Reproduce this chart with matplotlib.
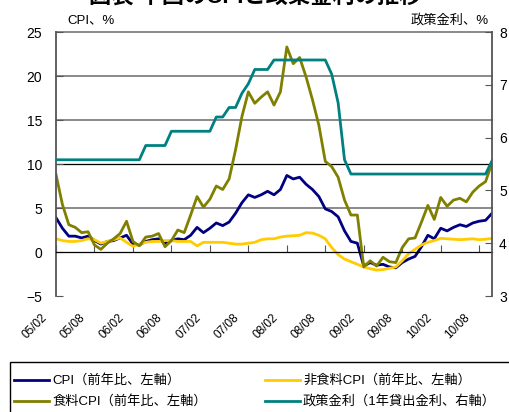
import numpy as np
import matplotlib
matplotlib.use("Agg")
import matplotlib.pyplot as plt
from matplotlib.patches import Rectangle
from matplotlib.lines import Line2D
from matplotlib.transforms import blended_transform_factory, ScaledTranslation

plt.rcParams['font.family'] = ['Liberation Sans', 'Noto Sans CJK JP']

# --- 1. DATOS (mensual, 2005/02 - 2010/10) ---
etiquetas_x = ['05/02', '05/08', '06/02', '06/08', '07/02', '07/08',
               '08/02', '08/08', '09/02', '09/08', '10/02', '10/08']

cpi = [3.9, 2.7, 1.8, 1.8, 1.6, 1.8, 1.3, 0.9, 1.2, 1.3, 1.6,
       1.9, 0.9, 0.8, 1.2, 1.4, 1.5, 1.0, 1.3, 1.5, 1.4, 1.9, 2.8,
       2.2, 2.7, 3.3, 3.0, 3.4, 4.4, 5.6, 6.5, 6.2, 6.5, 6.9, 6.5,
       7.1, 8.7, 8.3, 8.5, 7.7, 7.1, 6.3, 4.9, 4.6, 4.0, 2.4, 1.2,
       1.0, -1.6, -1.2, -1.5, -1.4, -1.7, -1.8, -1.2, -0.8, -0.5, 0.6, 1.9,
       1.5, 2.7, 2.4, 2.8, 3.1, 2.9, 3.3, 3.5, 3.6, 4.4]

cpi_no_alim = [1.5, 1.3, 1.2, 1.2, 1.3, 1.5, 1.4, 1.0, 1.2, 1.4, 1.6,
               1.1, 0.65, 0.9, 1.1, 1.2, 1.2, 1.3, 1.3, 1.2, 1.2, 1.2, 0.7,
               1.1, 1.1, 1.1, 1.1, 1.0, 0.9, 0.9, 1.0, 1.1, 1.4, 1.5, 1.5,
               1.7, 1.8, 1.85, 1.9, 2.2, 2.15, 1.9, 1.5, 0.5, -0.3, -0.8, -1.1,
               -1.4, -1.7, -1.9, -2.05, -2.0, -1.85, -1.7, -1.0, -0.2, 0.3, 0.8, 1.1,
               1.3, 1.55, 1.5, 1.45, 1.4, 1.45, 1.5, 1.4, 1.45, 1.55]

cpi_alim = [8.8, 5.4, 3.1, 2.8, 2.2, 2.3, 0.8, 0.3, 1.0, 1.5, 2.1,
            3.5, 1.2, 0.7, 1.7, 1.8, 2.1, 0.6, 1.3, 2.5, 2.2, 4.2, 6.3,
            5.1, 6.0, 7.5, 7.1, 8.3, 11.6, 15.4, 18.2, 16.9, 17.6, 18.2, 16.7,
            18.2, 23.3, 21.4, 22.1, 19.9, 17.3, 14.4, 10.3, 9.7, 8.5, 5.9, 4.2,
            4.2, -1.7, -1.0, -1.6, -0.6, -1.1, -1.2, 0.5, 1.5, 1.6, 3.4, 5.3,
            3.7, 6.2, 5.2, 5.9, 6.1, 5.7, 6.8, 7.5, 8.0, 10.1]

tasa = [5.58, 5.58, 5.58, 5.58, 5.58, 5.58, 5.58, 5.58, 5.58, 5.58, 5.58,
        5.58, 5.58, 5.58, 5.85, 5.85, 5.85, 5.85, 6.12, 6.12, 6.12, 6.12, 6.12,
        6.12, 6.12, 6.39, 6.39, 6.57, 6.57, 6.84, 7.02, 7.29, 7.29, 7.29, 7.47,
        7.47, 7.47, 7.47, 7.47, 7.47, 7.47, 7.47, 7.47, 7.20, 6.66, 5.58, 5.31,
        5.31, 5.31, 5.31, 5.31, 5.31, 5.31, 5.31, 5.31, 5.31, 5.31, 5.31, 5.31,
        5.31, 5.31, 5.31, 5.31, 5.31, 5.31, 5.31, 5.31, 5.31, 5.56]

nombres = ['CPI（前年比、左軸）', '非食料CPI（前年比、左軸）',
           '食料CPI（前年比、左軸）', '政策金利（1年貸出金利、右軸）']
colores = ['#000080', '#FFCC00', '#808000', '#008080']

n = len(cpi)
x = np.arange(n)

# --- 2. FIGURA Y EJES ---
W, H = 509, 412
fig = plt.figure(figsize=(W / 100, H / 100), dpi=100)
ax = fig.add_axes([56 / W, 1 - 296 / H, 436 / W, 264 / H])
ax2 = ax.twinx()

ax.set_xlim(0, n - 1)
ax.set_ylim(-5, 25)
ax2.set_ylim(3, 8)

for v in [5, 15, 20, 25]:
    ax.axhline(v, color='#808080', lw=1.3, zorder=0, clip_on=False)
ax.axhline(10, color='black', lw=0.9, zorder=0)

ax.plot(x, cpi, color=colores[0], lw=2.0)
ax.plot(x, cpi_no_alim, color=colores[1], lw=2.0)
ax.plot(x, cpi_alim, color=colores[2], lw=2.0)
ax2.plot(x, tasa, color=colores[3], lw=2.0)

for a in (ax, ax2):
    a.spines['top'].set_visible(False)
ax.spines['right'].set_visible(False)
ax2.spines['left'].set_visible(False)
ax2.spines['bottom'].set_visible(False)
ax.spines['bottom'].set_position(('data', 0))
ax.spines['bottom'].set_linewidth(0.9)
ax.spines['left'].set_color('#555555')
ax.spines['left'].set_linewidth(1.3)
ax2.spines['right'].set_color('#555555')
ax2.spines['right'].set_linewidth(1.3)

ax.set_xticks(range(0, n, 6))
ax.tick_params(axis='x', direction='in', length=5, color='#555555', labelbottom=False)
ax.set_yticks(range(-5, 26, 5))
ax.tick_params(axis='y', direction='in', length=5, color='#555555', pad=10, labelsize=10)
ax2.set_yticks(range(3, 9))
ax2.tick_params(axis='y', direction='in', length=5, color='#555555', pad=5, labelsize=10)

# etiquetas del eje x, giradas 45 grados
trans = blended_transform_factory(ax.transData, ax.transAxes)
desplazamiento = ScaledTranslation(-11 / 100, -20 / 100, fig.dpi_scale_trans)
for i, lab in zip(range(0, n, 6), etiquetas_x):
    ax.text(i, 0, lab, transform=trans + desplazamiento, rotation=45,
            ha='right', va='center', rotation_mode='anchor', fontsize=8.5)

# --- 3. TEXTOS ---
fig.text(255 / W, 1 + 3 / H, '図表 中国のCPIと政策金利の推移', ha='center', va='center',
         fontsize=16, fontweight='bold')
fig.text(67 / W, 1 - 20 / H, 'CPI、%', va='center', fontsize=9.5)
fig.text(489 / W, 1 - 20 / H, '政策金利、%', ha='right', va='center', fontsize=9.5)

# --- 4. LEYENDA ---
fig.add_artist(Rectangle((10 / W, -8 / H), 520 / W, 58 / H, transform=fig.transFigure,
                         fill=False, ec='black', lw=1.0))
filas = [380, 401]
columnas = [14, 265]
for k, (nombre, col) in enumerate(zip(nombres, colores)):
    x0 = columnas[k % 2]
    y0 = 1 - filas[k // 2] / H
    fig.add_artist(Line2D([x0 / W, (x0 + 35) / W], [y0, y0], transform=fig.transFigure,
                          color=col, lw=2.0))
    fig.text((x0 + 38) / W, y0, nombre, va='center', fontsize=9.5)

fig.savefig('out.png', dpi=100)
